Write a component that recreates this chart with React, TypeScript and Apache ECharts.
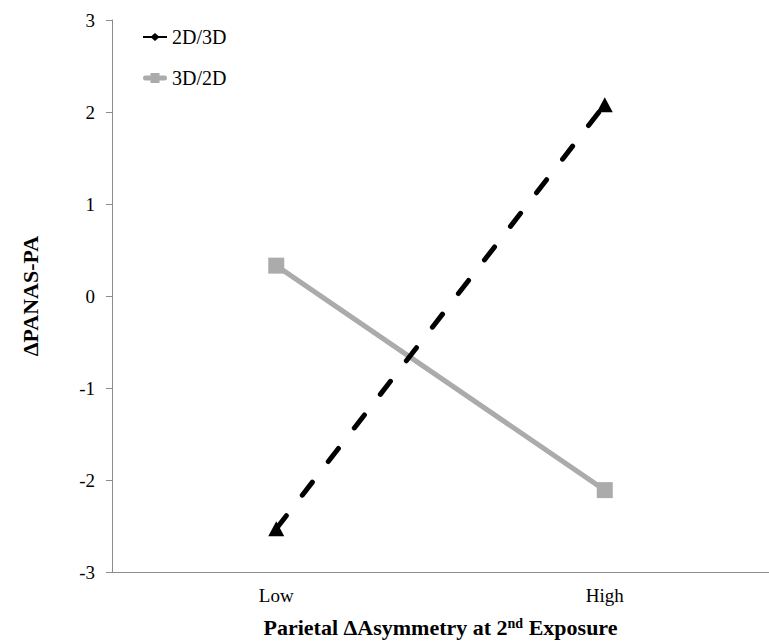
import React, { useEffect, useRef } from "react";
import * as echarts from "echarts";

const categories = ["Low", "High"];
const series2D3D = [-2.53, 2.08];
const series3D2D = [0.33, -2.11];
const yMin = -3;
const yMax = 3;
const yInterval = 1;

const FONT = "Liberation Serif";

const icon2D3D =
  "path://M0,3 L8.5,3 L12,0 L15.5,3 L24,3 L24,5 L15.5,5 L12,8 L8.5,5 L0,5 Z";
const icon3D2D =
  "path://M2.5,2.5 L7.5,2.5 L7.5,0 L16.5,0 L16.5,2.5 L21.5,2.5 A2.5,2.5 0 0 1 21.5,7.5 L16.5,7.5 L16.5,10 L7.5,10 L7.5,7.5 L2.5,7.5 A2.5,2.5 0 0 1 2.5,2.5 Z";

export default function App() {
  const ref = useRef<HTMLDivElement>(null);
  useEffect(() => {
    if (!ref.current) return;
    const chart = echarts.init(ref.current, null, { renderer: "svg" });
    chart.setOption({
      animation: false,
      backgroundColor: "#ffffff",
      textStyle: { fontFamily: FONT },
      grid: { left: 112, top: 20, width: 668, bottom: 66, containLabel: false },
      legend: {
        orient: "vertical",
        left: 138,
        top: 22,
        itemWidth: 24,
        itemHeight: 10,
        itemGap: 21,
        selectedMode: false,
        textStyle: { fontFamily: FONT, fontSize: 20, color: "#000", lineHeight: 20 },
        itemStyle: { borderWidth: 0 },
        data: [
          { name: "2D/3D", icon: icon2D3D },
          { name: "3D/2D", icon: icon3D2D },
        ],
      },
      xAxis: {
        type: "category",
        data: categories,
        boundaryGap: true,
        axisLine: { show: true, onZero: false, lineStyle: { color: "#8c8c8c", width: 1 } },
        axisTick: { show: false },
        axisLabel: { fontFamily: FONT, fontSize: 19, color: "#000", margin: 14 },
        splitLine: { show: false },
        name: "Parietal ΔAsymmetry at 2{sup|nd} Exposure",
        nameLocation: "middle",
        nameGap: 44,
        nameTextStyle: {
          fontFamily: FONT,
          fontSize: 22,
          fontWeight: "bold",
          color: "#000",
          rich: {
            sup: {
              fontFamily: FONT,
              fontSize: 14,
              fontWeight: "bold",
              color: "#000",
              verticalAlign: "top",
              padding: [0, 0, 8, 0],
            },
          },
        },
      },
      yAxis: {
        type: "value",
        min: yMin,
        max: yMax,
        interval: yInterval,
        axisLine: { show: true, lineStyle: { color: "#8c8c8c", width: 1 } },
        axisTick: { show: true, length: 6, inside: false, lineStyle: { color: "#8c8c8c" } },
        axisLabel: { fontFamily: FONT, fontSize: 19, color: "#000", margin: 17 },
        splitLine: { show: false },
        name: "ΔPANAS-PA",
        nameLocation: "middle",
        nameRotate: 90,
        nameGap: 71,
        nameTextStyle: { fontFamily: FONT, fontSize: 22, fontWeight: "bold", color: "#000" },
      },
      series: [
        {
          name: "3D/2D",
          type: "line",
          data: series3D2D,
          symbol: "rect",
          symbolSize: 16,
          itemStyle: { color: "#ababab", borderWidth: 0 },
          lineStyle: { color: "#ababab", width: 5 },
          z: 2,
        },
        {
          name: "2D/3D",
          type: "line",
          data: series2D3D,
          symbol: "triangle",
          symbolSize: [16, 15],
          itemStyle: { color: "#000000", borderWidth: 0 },
          lineStyle: { color: "#000000", width: 5, type: [16.5, 26], cap: "round" },
          z: 3,
        },
      ],
    });
    return () => chart.dispose();
  }, []);
  return (
    <div
      ref={ref}
      style={{ position: "absolute", left: 0, top: 0, width: 769, height: 643 }}
    />
  );
}
